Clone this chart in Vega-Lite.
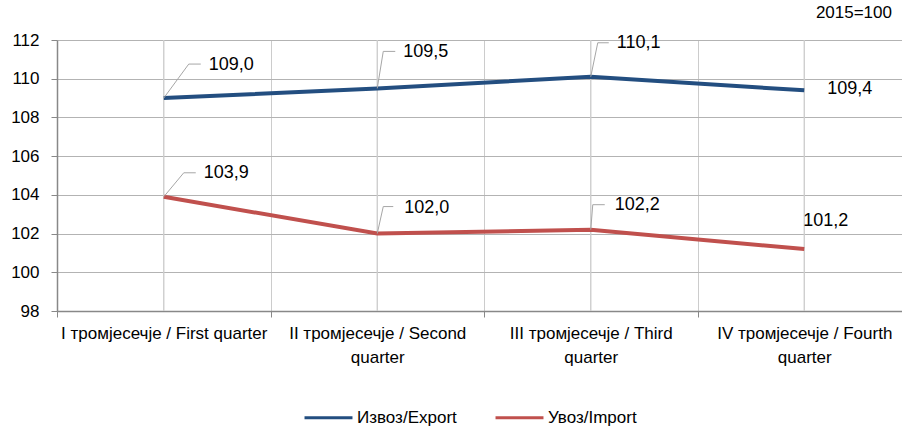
{
  "$schema": "https://vega.github.io/schema/vega-lite/v6.json",
  "width": 845,
  "height": 271,
  "autosize": "none",
  "padding": {"left": 57, "top": 40, "right": 0, "bottom": 116},
  "background": "white",
  "config": {
    "font": "Liberation Sans",
    "view": {"stroke": null},
    "axis": {"labelColor": "#000000"},
    "axisY": {
      "title": null,
      "values": [98, 100, 102, 104, 106, 108, 110, 112],
      "labelFontSize": 17,
      "labelPadding": 12,
      "tickSize": 6,
      "tickColor": "#888888",
      "domainColor": "#888888",
      "domainWidth": 1.5,
      "gridColor": "#b3b3b3",
      "labelOverlap": false
    }
  },
  "title": {
    "text": "2015=100",
    "anchor": "end",
    "frame": "group",
    "fontSize": 17,
    "fontWeight": "normal",
    "color": "#000000",
    "dx": -10,
    "offset": 9
  },
  "data": {
    "values": [
      {"quarter": "I тромјесечје / First quarter", "series": "Извоз/Export", "value": 109.0, "label": "109,0"},
      {"quarter": "II тромјесечје / Second quarter", "series": "Извоз/Export", "value": 109.5, "label": "109,5"},
      {"quarter": "III тромјесечје / Third quarter", "series": "Извоз/Export", "value": 110.1, "label": "110,1"},
      {"quarter": "IV тромјесечје / Fourth quarter", "series": "Извоз/Export", "value": 109.4, "label": "109,4"},
      {"quarter": "I тромјесечје / First quarter", "series": "Увоз/Import", "value": 103.9, "label": "103,9"},
      {"quarter": "II тромјесечје / Second quarter", "series": "Увоз/Import", "value": 102.0, "label": "102,0"},
      {"quarter": "III тромјесечје / Third quarter", "series": "Увоз/Import", "value": 102.2, "label": "102,2"},
      {"quarter": "IV тромјесечје / Fourth quarter", "series": "Увоз/Import", "value": 101.2, "label": "101,2"}
    ]
  },
  "layer": [
    {
      "mark": {"type": "rule", "color": "#cccccc", "strokeWidth": 1},
      "encoding": {
        "x": {"field": "quarter", "type": "nominal", "sort": null, "bandPosition": 0.5}
      }
    },
    {
      "mark": {"type": "line", "strokeWidth": 4},
      "encoding": {
        "x": {
          "field": "quarter",
          "type": "nominal",
          "sort": null,
          "scale": {"type": "band", "range": [0, 854], "paddingInner": 0, "paddingOuter": 0},
          "axis": {
            "title": null,
            "labelAngle": 0,
            "labelAlign": "center",
            "labelBaseline": "top",
            "labelFontSize": 17,
            "labelPadding": 8,
            "labelLineHeight": 24,
            "labelLimit": 0,
            "labelExpr": "isString(datum.value) && length(datum.value) > 30 ? [substring(datum.value, 0, lastindexof(datum.value, ' ')), substring(datum.value, lastindexof(datum.value, ' ') + 1)] : datum.label",
            "tickBand": "extent",
            "tickSize": 6,
            "tickColor": "#888888",
            "domainColor": "#888888",
            "domainWidth": 1.5,
            "grid": true,
            "gridColor": "#cccccc"
          }
        },
        "y": {
          "field": "value",
          "type": "quantitative",
          "scale": {"domain": [98, 112], "nice": false, "zero": false}
        },
        "color": {
          "field": "series",
          "type": "nominal",
          "scale": {"domain": ["Извоз/Export", "Увоз/Import"], "range": ["#234e80", "#c0504d"]},
          "legend": {
            "title": null,
            "orient": "none",
            "legendX": 246,
            "legendY": 352,
            "direction": "horizontal",
            "symbolType": "stroke",
            "symbolSize": 2300,
            "symbolStrokeWidth": 3,
            "labelFontSize": 17,
            "labelOffset": 3,
            "columnPadding": 32,
            "labelLimit": 0
          }
        }
      }
    },
    {
      "transform": [{"filter": "datum.label == '109,0'"}],
      "layer": [
        {"mark": {"type": "rule", "color": "#a6a6a6", "strokeWidth": 1, "x2Offset": 25, "y2Offset": -34}, "encoding": {"x": {"field": "quarter", "type": "nominal", "sort": null, "bandPosition": 0.5}, "y": {"field": "value", "type": "quantitative"}, "x2": {"field": "quarter", "bandPosition": 0.5}, "y2": {"field": "value"}}},
        {"mark": {"type": "rule", "color": "#a6a6a6", "strokeWidth": 1, "xOffset": 25, "yOffset": -34, "x2Offset": 37, "y2Offset": -34}, "encoding": {"x": {"field": "quarter", "type": "nominal", "sort": null, "bandPosition": 0.5}, "y": {"field": "value", "type": "quantitative"}, "x2": {"field": "quarter", "bandPosition": 0.5}, "y2": {"field": "value"}}},
        {"mark": {"type": "text", "align": "left", "baseline": "middle", "fontSize": 18, "dx": 45, "dy": -33}, "encoding": {"x": {"field": "quarter", "type": "nominal", "sort": null}, "y": {"field": "value", "type": "quantitative"}, "text": {"field": "label"}}}
      ]
    },
    {
      "transform": [{"filter": "datum.label == '103,9'"}],
      "layer": [
        {"mark": {"type": "rule", "color": "#a6a6a6", "strokeWidth": 1, "x2Offset": 20, "y2Offset": -24}, "encoding": {"x": {"field": "quarter", "type": "nominal", "sort": null, "bandPosition": 0.5}, "y": {"field": "value", "type": "quantitative"}, "x2": {"field": "quarter", "bandPosition": 0.5}, "y2": {"field": "value"}}},
        {"mark": {"type": "rule", "color": "#a6a6a6", "strokeWidth": 1, "xOffset": 20, "yOffset": -24, "x2Offset": 32, "y2Offset": -24}, "encoding": {"x": {"field": "quarter", "type": "nominal", "sort": null, "bandPosition": 0.5}, "y": {"field": "value", "type": "quantitative"}, "x2": {"field": "quarter", "bandPosition": 0.5}, "y2": {"field": "value"}}},
        {"mark": {"type": "text", "align": "left", "baseline": "middle", "fontSize": 18, "dx": 40, "dy": -24}, "encoding": {"x": {"field": "quarter", "type": "nominal", "sort": null}, "y": {"field": "value", "type": "quantitative"}, "text": {"field": "label"}}}
      ]
    },
    {
      "transform": [{"filter": "datum.label == '109,5'"}],
      "layer": [
        {"mark": {"type": "rule", "color": "#a6a6a6", "strokeWidth": 1, "x2Offset": 6, "y2Offset": -37}, "encoding": {"x": {"field": "quarter", "type": "nominal", "sort": null, "bandPosition": 0.5}, "y": {"field": "value", "type": "quantitative"}, "x2": {"field": "quarter", "bandPosition": 0.5}, "y2": {"field": "value"}}},
        {"mark": {"type": "rule", "color": "#a6a6a6", "strokeWidth": 1, "xOffset": 6, "yOffset": -37, "x2Offset": 18, "y2Offset": -37}, "encoding": {"x": {"field": "quarter", "type": "nominal", "sort": null, "bandPosition": 0.5}, "y": {"field": "value", "type": "quantitative"}, "x2": {"field": "quarter", "bandPosition": 0.5}, "y2": {"field": "value"}}},
        {"mark": {"type": "text", "align": "left", "baseline": "middle", "fontSize": 18, "dx": 26, "dy": -36}, "encoding": {"x": {"field": "quarter", "type": "nominal", "sort": null}, "y": {"field": "value", "type": "quantitative"}, "text": {"field": "label"}}}
      ]
    },
    {
      "transform": [{"filter": "datum.label == '110,1'"}],
      "layer": [
        {"mark": {"type": "rule", "color": "#a6a6a6", "strokeWidth": 1, "x2Offset": 7, "y2Offset": -34}, "encoding": {"x": {"field": "quarter", "type": "nominal", "sort": null, "bandPosition": 0.5}, "y": {"field": "value", "type": "quantitative"}, "x2": {"field": "quarter", "bandPosition": 0.5}, "y2": {"field": "value"}}},
        {"mark": {"type": "rule", "color": "#a6a6a6", "strokeWidth": 1, "xOffset": 7, "yOffset": -34, "x2Offset": 18, "y2Offset": -34}, "encoding": {"x": {"field": "quarter", "type": "nominal", "sort": null, "bandPosition": 0.5}, "y": {"field": "value", "type": "quantitative"}, "x2": {"field": "quarter", "bandPosition": 0.5}, "y2": {"field": "value"}}},
        {"mark": {"type": "text", "align": "left", "baseline": "middle", "fontSize": 18, "dx": 26, "dy": -34}, "encoding": {"x": {"field": "quarter", "type": "nominal", "sort": null}, "y": {"field": "value", "type": "quantitative"}, "text": {"field": "label"}}}
      ]
    },
    {
      "transform": [{"filter": "datum.label == '102,0'"}],
      "layer": [
        {"mark": {"type": "rule", "color": "#a6a6a6", "strokeWidth": 1, "x2Offset": 6, "y2Offset": -27}, "encoding": {"x": {"field": "quarter", "type": "nominal", "sort": null, "bandPosition": 0.5}, "y": {"field": "value", "type": "quantitative"}, "x2": {"field": "quarter", "bandPosition": 0.5}, "y2": {"field": "value"}}},
        {"mark": {"type": "rule", "color": "#a6a6a6", "strokeWidth": 1, "xOffset": 6, "yOffset": -27, "x2Offset": 16, "y2Offset": -27}, "encoding": {"x": {"field": "quarter", "type": "nominal", "sort": null, "bandPosition": 0.5}, "y": {"field": "value", "type": "quantitative"}, "x2": {"field": "quarter", "bandPosition": 0.5}, "y2": {"field": "value"}}},
        {"mark": {"type": "text", "align": "left", "baseline": "middle", "fontSize": 18, "dx": 27, "dy": -26}, "encoding": {"x": {"field": "quarter", "type": "nominal", "sort": null}, "y": {"field": "value", "type": "quantitative"}, "text": {"field": "label"}}}
      ]
    },
    {
      "transform": [{"filter": "datum.label == '102,2'"}],
      "layer": [
        {"mark": {"type": "rule", "color": "#a6a6a6", "strokeWidth": 1, "x2Offset": 2, "y2Offset": -25}, "encoding": {"x": {"field": "quarter", "type": "nominal", "sort": null, "bandPosition": 0.5}, "y": {"field": "value", "type": "quantitative"}, "x2": {"field": "quarter", "bandPosition": 0.5}, "y2": {"field": "value"}}},
        {"mark": {"type": "rule", "color": "#a6a6a6", "strokeWidth": 1, "xOffset": 2, "yOffset": -25, "x2Offset": 14, "y2Offset": -25}, "encoding": {"x": {"field": "quarter", "type": "nominal", "sort": null, "bandPosition": 0.5}, "y": {"field": "value", "type": "quantitative"}, "x2": {"field": "quarter", "bandPosition": 0.5}, "y2": {"field": "value"}}},
        {"mark": {"type": "text", "align": "left", "baseline": "middle", "fontSize": 18, "dx": 24, "dy": -25}, "encoding": {"x": {"field": "quarter", "type": "nominal", "sort": null}, "y": {"field": "value", "type": "quantitative"}, "text": {"field": "label"}}}
      ]
    },
    {
      "transform": [{"filter": "datum.label == '109,4'"}],
      "mark": {"type": "text", "align": "left", "baseline": "middle", "fontSize": 18, "dx": 23, "dy": -1},
      "encoding": {"x": {"field": "quarter", "type": "nominal", "sort": null}, "y": {"field": "value", "type": "quantitative"}, "text": {"field": "label"}}
    },
    {
      "transform": [{"filter": "datum.label == '101,2'"}],
      "mark": {"type": "text", "align": "left", "baseline": "middle", "fontSize": 18, "dx": -1, "dy": -28},
      "encoding": {"x": {"field": "quarter", "type": "nominal", "sort": null}, "y": {"field": "value", "type": "quantitative"}, "text": {"field": "label"}}
    }
  ]
}
